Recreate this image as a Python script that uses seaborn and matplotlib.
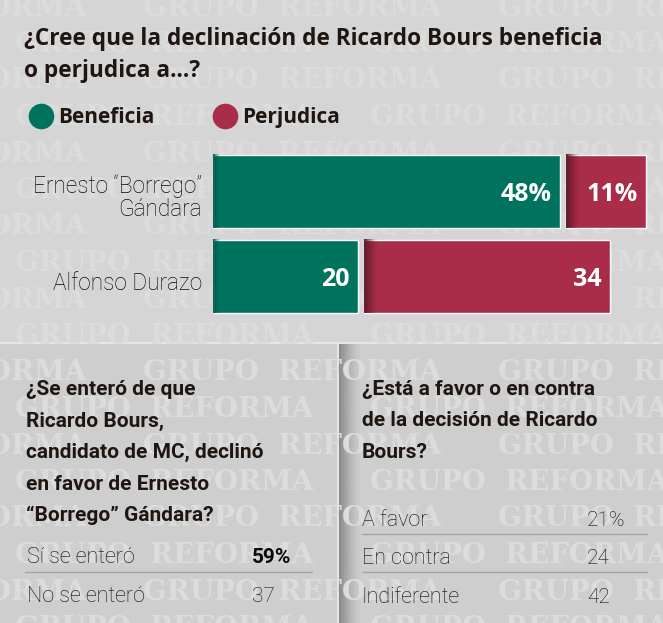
import matplotlib
matplotlib.use('Agg')
import matplotlib.pyplot as plt
from matplotlib.patches import Rectangle
from matplotlib.transforms import ScaledTranslation
from matplotlib.colors import to_rgba
import numpy as np
import pandas as pd
import seaborn as sns

# ---- datos ----
candidatos = ['Ernesto “Borrego”\nGándara', 'Alfonso Durazo']
beneficia = [48, 20]
perjudica = [11, 34]
series = ['Beneficia', 'Perjudica']

pregunta1 = ['¿Cree que la declinación de Ricardo Bours beneficia', 'o perjudica a...?']

pregunta2 = ['¿Se enteró de que', 'Ricardo Bours,', 'candidato de MC, declinó',
             'en favor de Ernesto', '“Borrego” Gándara?']
respuestas2 = ['Sí se enteró', 'No se enteró']
valores2 = [59, 37]

pregunta3 = ['¿Está a favor o en contra', 'de la decisión de Ricardo', 'Bours?']
respuestas3 = ['A favor', 'En contra', 'Indiferente']
valores3 = [21, 24, 42]

VERDE = '#00735f'
ROJO = '#a92d48'
TEXTO = '#1f1612'
TEXTO_FINO = '#0e0a08'
FONDO = '#d5d5d5'
FONDO2 = '#cecece'
ANCHA = ['Open Sans', 'DejaVu Sans']

sns.set_theme(style='white')
plt.rcParams['font.family'] = ['Roboto', 'DejaVu Sans']

W, H = 663, 623
fig = plt.figure(figsize=(W / 100, H / 100), dpi=100, facecolor='#ececec')

# eje de fondo en pixeles
bg = fig.add_axes([0, 0, 1, 1])
bg.set_xlim(0, W)
bg.set_ylim(H, 0)
bg.axis('off')

# paneles
bg.add_patch(Rectangle((0, 0), W, 341, color=FONDO, zorder=0))
bg.add_patch(Rectangle((0, 344), 336, H - 344, color=FONDO2, zorder=0))
bg.add_patch(Rectangle((339, 344), W - 339, H - 344, color=FONDO2, zorder=0))

# sombra del panel derecho
grad = np.zeros((1, 60, 4))
c0 = np.array(to_rgba('#7d7d7d'))
grad[0, :, :3] = c0[:3]
grad[0, :, 3] = np.linspace(0.9, 0, 60) ** 1.5
bg.imshow(grad, extent=[339, 362, H, 344], aspect='auto', zorder=0.2)

# marca de agua
for i, y in enumerate(np.arange(8, H + 20, 36.5)):
    x0 = 143 if i % 2 == 0 else 15
    for x in np.arange(x0 - 710, W + 10, 355):
        bg.text(x, y, 'GRUPO  REFORMA', family='DejaVu Serif', fontweight='bold',
                fontsize=20, color='#dcdcdc', va='center', ha='left', zorder=0.5,
                clip_on=True)
bg.set_xlim(0, W)
bg.set_ylim(H, 0)

# ---- titulo superior ----
for k, linea in enumerate(pregunta1):
    bg.text(24, 45 + 32 * k, linea, family=ANCHA, fontsize=16.3, fontweight='bold',
            color=TEXTO, va='baseline', ha='left', zorder=3)

# leyenda
for nombre, col, x in zip(series, [VERDE, ROJO], [41, 225]):
    bg.scatter([x], [116], s=340, color=col, zorder=3, linewidths=0)
    bg.text(x + 17, 123, nombre, family=ANCHA, fontsize=15, fontweight='bold',
            color=TEXTO, va='baseline', ha='left', zorder=3)

# ---- barras ----
escala = 7.23  # px por punto porcentual
ax = fig.add_axes([213 / W, 1 - 319 / H, (W - 213) / W, 170 / H])
df = pd.DataFrame({'candidato': candidatos, 'Beneficia': beneficia, 'Perjudica': perjudica})
sns.barplot(data=df, y='candidato', x='Beneficia', color=VERDE, saturation=1,
            width=0.87, ax=ax)
gap = 0.85
ax.barh(np.arange(len(df)), df['Perjudica'], left=df['Beneficia'] + gap,
        height=0.87, color=ROJO)

# degradado oscuro en el borde izquierdo de cada barra
for patch in ax.patches:
    x0, y0, h = patch.get_x(), patch.get_y(), patch.get_height()
    fc = np.array(patch.get_facecolor())
    oscuro = fc[:3] * (0.55 if fc[0] > 0.5 else 0.75)
    g = np.zeros((1, 40, 4))
    g[0, :, :3] = oscuro
    g[0, :, 3] = np.linspace(1, 0, 40) ** 1.3
    w = (14 if fc[0] > 0.5 else 8) / escala
    ax.imshow(g, extent=[x0, x0 + w, y0 + h, y0], aspect='auto', zorder=3)

for i, (b, p) in enumerate(zip(df['Beneficia'], df['Perjudica'])):
    suf = '%' if i == 0 else ''
    ax.annotate(f'{b}{suf}', xy=(b, i), xytext=(-8, -10), textcoords='offset pixels',
                ha='right', va='baseline', color='white', fontsize=18, family=ANCHA,
                fontweight='bold', zorder=4)
    ax.annotate(f'{p}{suf}', xy=(b + gap + p, i), xytext=(-8, -10),
                textcoords='offset pixels', ha='right', va='baseline', color='white',
                fontsize=18, family=ANCHA, fontweight='bold', zorder=4)

ax.set_xlim(0, (W - 213) / escala)
ax.set_ylim(1.5, -0.5)
ax.patch.set_alpha(0)
sns.despine(ax=ax, left=True, bottom=True)
ax.set_xticks([])
ax.set_xlabel('')
ax.set_ylabel('')
ax.tick_params(axis='y', length=0, pad=8, labelsize=16.3, labelcolor=TEXTO_FINO)
for lab in ax.get_yticklabels():
    lab.set_multialignment('right')
    lab.set_fontweight('light')
    lab.set_linespacing(1.0)
    lab.set_transform(lab.get_transform() + ScaledTranslation(0, -4 / 100, fig.dpi_scale_trans))

# ---- panel inferior izquierdo ----
for k, linea in enumerate(pregunta2):
    bg.text(26, 395 + 31.5 * k, linea, fontsize=15, fontweight='bold', color=TEXTO,
            va='baseline', ha='left', zorder=3)
for k, (r, v) in enumerate(zip(respuestas2, valores2)):
    yb = 563 + 39 * k
    bg.text(27, yb, r, fontsize=15.5, fontweight='light', color=TEXTO_FINO,
            va='baseline', zorder=3)
    bg.text(252, yb, f'{v}%' if k == 0 else f'{v}', fontsize=15,
            fontweight='bold' if k == 0 else 'light', color=TEXTO_FINO,
            va='baseline', zorder=3)
    if k < len(respuestas2) - 1:
        bg.plot([25, 312], [yb + 9, yb + 9], color='#a5a5a5', lw=1, zorder=3)

# ---- panel inferior derecho ----
for k, linea in enumerate(pregunta3):
    bg.text(362, 395 + 31.5 * k, linea, fontsize=15, fontweight='bold', color=TEXTO,
            va='baseline', ha='left', zorder=3)
for k, (r, v) in enumerate(zip(respuestas3, valores3)):
    yb = 526 + 38.5 * k
    bg.text(362, yb, r, fontsize=15.5, fontweight='light', color=TEXTO_FINO,
            va='baseline', zorder=3)
    bg.text(587, yb, f'{v}%' if k == 0 else f'{v}', fontsize=15, fontweight='light',
            color=TEXTO_FINO, va='baseline', zorder=3)
    if k < len(respuestas3) - 1:
        bg.plot([362, 647], [yb + 7.5, yb + 7.5], color='#a5a5a5', lw=1, zorder=3)

fig.savefig('out.png', dpi=100, facecolor=fig.get_facecolor())
